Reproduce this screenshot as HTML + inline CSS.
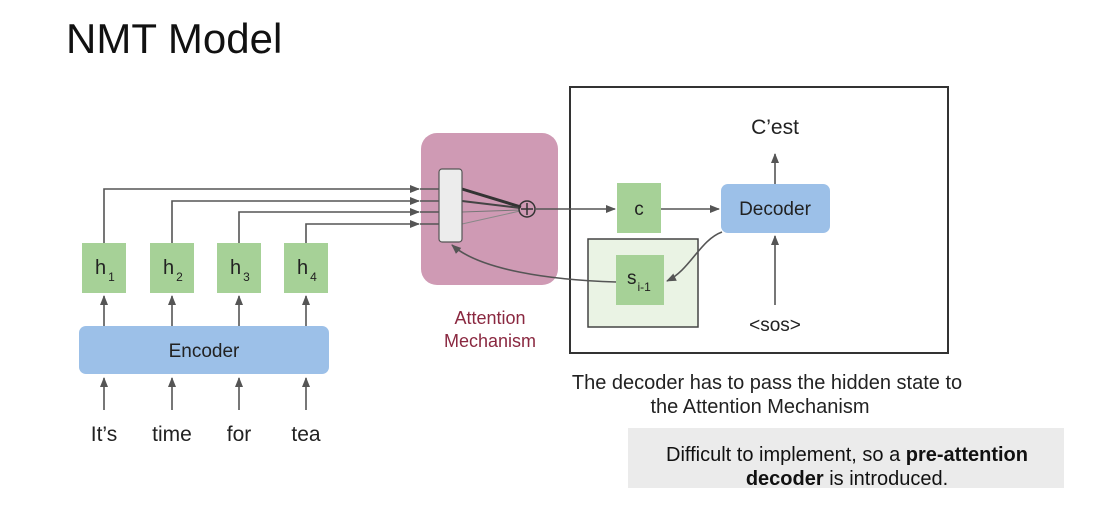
<!DOCTYPE html>
<html><head><meta charset="utf-8"><style>
body{margin:0;background:#fff;width:1116px;height:514px;overflow:hidden}
svg text{font-family:"Liberation Sans",sans-serif}
</style></head><body>
<svg width="1116" height="514" xmlns="http://www.w3.org/2000/svg">
<defs><marker id="a" markerWidth="10" markerHeight="10" refX="9" refY="5" orient="auto" markerUnits="userSpaceOnUse"><path d="M0,1 L10,5 L0,9 z" fill="#555"/></marker></defs>
<text x="66" y="53" font-size="42" fill="#111">NMT Model</text>
<rect x="79" y="326" width="250" height="48" rx="7" fill="#9cc0e8"/>
<text x="204" y="357" font-size="19" text-anchor="middle" fill="#222">Encoder</text>
<g stroke="#555" stroke-width="1.6" fill="none" marker-end="url(#a)">
<line x1="104" y1="410" x2="104" y2="378"/><line x1="172" y1="410" x2="172" y2="378"/><line x1="239" y1="410" x2="239" y2="378"/><line x1="306" y1="410" x2="306" y2="378"/>
<line x1="104" y1="326" x2="104" y2="296"/><line x1="172" y1="326" x2="172" y2="296"/><line x1="239" y1="326" x2="239" y2="296"/><line x1="306" y1="326" x2="306" y2="296"/>
<polyline points="104,243 104,189 419,189"/><polyline points="172,243 172,201 419,201"/><polyline points="239,243 239,212 419,212"/><polyline points="306,243 306,224 419,224"/>
</g>
<g font-size="21" fill="#222" text-anchor="middle"><text x="104" y="441">It’s</text><text x="172" y="441">time</text><text x="239" y="441">for</text><text x="306" y="441">tea</text></g>
<g fill="#a6d197"><rect x="82" y="243" width="44" height="50"/><rect x="150" y="243" width="44" height="50"/><rect x="217" y="243" width="44" height="50"/><rect x="284" y="243" width="44" height="50"/></g>
<g font-size="20" fill="#222"><text x="95" y="274">h<tspan font-size="12" dy="7" dx="2">1</tspan></text><text x="163" y="274">h<tspan font-size="12" dy="7" dx="2">2</tspan></text><text x="230" y="274">h<tspan font-size="12" dy="7" dx="2">3</tspan></text><text x="297" y="274">h<tspan font-size="12" dy="7" dx="2">4</tspan></text></g>
<rect x="421" y="133" width="137" height="152" rx="16" fill="#cf9ab4"/>
<g stroke="#555" stroke-width="1.5"><line x1="420" y1="189" x2="439" y2="189"/><line x1="420" y1="201" x2="439" y2="201"/><line x1="420" y1="212" x2="439" y2="212"/><line x1="420" y1="224" x2="439" y2="224"/></g>
<line x1="462" y1="189" x2="521" y2="207" stroke="#333" stroke-width="3"/>
<line x1="462" y1="201" x2="520" y2="208" stroke="#444" stroke-width="2"/>
<line x1="462" y1="212" x2="520" y2="210" stroke="#777" stroke-width="1"/>
<line x1="462" y1="224" x2="520" y2="211" stroke="#888" stroke-width="1"/>
<rect x="439" y="169" width="23" height="73" rx="3" fill="#ececec" stroke="#555" stroke-width="1.2"/>
<circle cx="527" cy="209" r="8" fill="none" stroke="#333" stroke-width="1.5"/>
<line x1="521" y1="209" x2="533" y2="209" stroke="#333" stroke-width="1.5"/><line x1="527" y1="203" x2="527" y2="215" stroke="#333" stroke-width="1.5"/>
<text x="490" y="324" font-size="18" fill="#8a2840" text-anchor="middle">Attention</text>
<text x="490" y="347" font-size="18" fill="#8a2840" text-anchor="middle">Mechanism</text>
<rect x="570" y="87" width="378" height="266" fill="none" stroke="#333" stroke-width="2"/>
<rect x="588" y="239" width="110" height="88" fill="#eaf3e4" stroke="#444" stroke-width="1.5"/>
<rect x="617" y="183" width="44" height="50" fill="#a6d197"/>
<text x="639" y="215" font-size="19" text-anchor="middle" fill="#222">c</text>
<rect x="616" y="255" width="48" height="50" fill="#a6d197"/>
<text x="627" y="284" font-size="19" fill="#222">s<tspan font-size="12" dy="7" dx="1">i-1</tspan></text>
<rect x="721" y="184" width="109" height="49" rx="7" fill="#9cc0e8"/>
<text x="775" y="215" font-size="19" text-anchor="middle" fill="#222">Decoder</text>
<text x="775" y="134" font-size="21" text-anchor="middle" fill="#222">C’est</text>
<text x="775" y="331" font-size="19" text-anchor="middle" fill="#222">&lt;sos&gt;</text>
<g stroke="#555" stroke-width="1.6" fill="none" marker-end="url(#a)">
<line x1="535" y1="209" x2="615" y2="209"/>
<line x1="661" y1="209" x2="719" y2="209"/>
<line x1="775" y1="184" x2="775" y2="154"/>
<line x1="775" y1="305" x2="775" y2="236"/>
<path d="M722,232 C700,240 690,270 667,281"/>
<path d="M616,282 C550,280 480,270 452,245"/>
</g>
<text x="767" y="389" font-size="20" text-anchor="middle" fill="#222">The decoder has to pass the hidden state to</text>
<text x="760" y="413" font-size="20" text-anchor="middle" fill="#222">the Attention Mechanism</text>
<rect x="628" y="428" width="436" height="60" fill="#ebebeb"/>
<text x="847" y="461" font-size="20" text-anchor="middle" fill="#111">Difficult to implement, so a <tspan font-weight="bold">pre-attention</tspan></text>
<text x="847" y="485" font-size="20" text-anchor="middle" fill="#111"><tspan font-weight="bold">decoder</tspan> is introduced.</text>
</svg>
</body></html>
